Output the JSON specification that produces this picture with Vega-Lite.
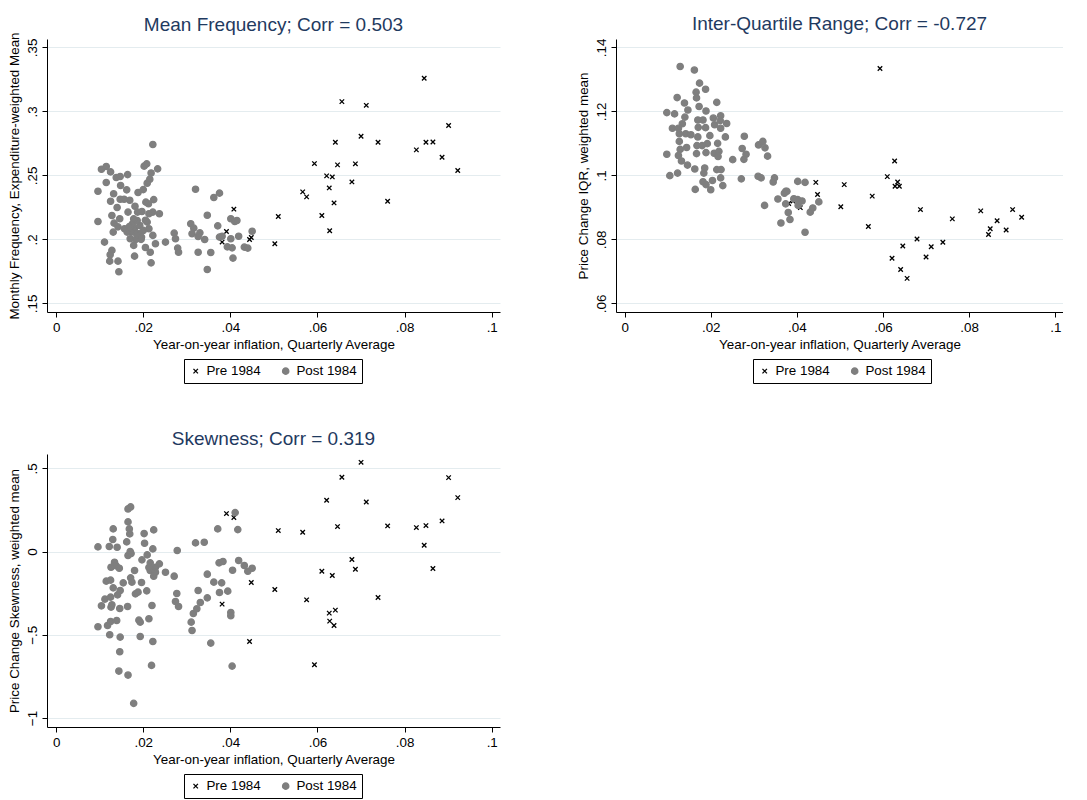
{
"$schema": "https://vega.github.io/schema/vega-lite/v6.json",
"background": "white",
"padding": {"left": 6, "top": 15, "right": 0, "bottom": 0},
"config": {
  "font": "Liberation Sans",
  "view": {"stroke": null},
  "title": {"fontSize": 19, "fontWeight": "normal", "color": "#1f3a5f"},
  "axis": {"domainColor": "black", "tickColor": "black", "tickSize": 5, "labelFontSize": 13.4, "titleFontSize": 13.4, "titleFontWeight": "normal", "labelColor": "black", "titleColor": "black", "grid": false, "labelPadding": 3, "titlePadding": 4,
    "labelExpr": "datum.value == 0 ? '0' : replace(format(datum.value, '~g'), '0.', '.')"},
  "axisY": {"grid": true, "gridColor": "#e4ecef", "labelAngle": 270, "labelAlign": "center", "labelBaseline": "bottom"},
  "legend": {"orient": "none", "legendX": 137, "legendY": 320, "direction": "horizontal", "strokeColor": "black", "padding": 5, "labelFontSize": 13.4, "columnPadding": 18, "labelOffset": 4, "symbolStrokeWidth": 1.3, "symbolSize": 36, "title": null}
},
"datasets": {
"freq": [
{"p":"Pre 1984","x":0.0381,"y":0.1979},{"p":"Pre 1984","x":0.0391,"y":0.2062},{"p":"Pre 1984","x":0.0408,"y":0.2236},{"p":"Pre 1984","x":0.0444,"y":0.1999},{"p":"Pre 1984","x":0.0448,"y":0.2015},{"p":"Pre 1984","x":0.0502,"y":0.1966},{"p":"Pre 1984","x":0.0510,"y":0.2179},{"p":"Pre 1984","x":0.0566,"y":0.2371},{"p":"Pre 1984","x":0.0575,"y":0.2332},{"p":"Pre 1984","x":0.0593,"y":0.2592},{"p":"Pre 1984","x":0.0610,"y":0.2187},{"p":"Pre 1984","x":0.0621,"y":0.2496},{"p":"Pre 1984","x":0.0627,"y":0.2402},{"p":"Pre 1984","x":0.0628,"y":0.2067},{"p":"Pre 1984","x":0.0634,"y":0.2488},{"p":"Pre 1984","x":0.0638,"y":0.2285},{"p":"Pre 1984","x":0.0641,"y":0.2759},{"p":"Pre 1984","x":0.0646,"y":0.2582},{"p":"Pre 1984","x":0.0656,"y":0.3076},{"p":"Pre 1984","x":0.0679,"y":0.2449},{"p":"Pre 1984","x":0.0687,"y":0.2590},{"p":"Pre 1984","x":0.0700,"y":0.2806},{"p":"Pre 1984","x":0.0712,"y":0.3047},{"p":"Pre 1984","x":0.0739,"y":0.2759},{"p":"Pre 1984","x":0.0761,"y":0.2298},{"p":"Pre 1984","x":0.0827,"y":0.2699},{"p":"Pre 1984","x":0.0845,"y":0.3258},{"p":"Pre 1984","x":0.0849,"y":0.2759},{"p":"Pre 1984","x":0.0865,"y":0.2761},{"p":"Pre 1984","x":0.0886,"y":0.2642},{"p":"Pre 1984","x":0.0901,"y":0.2889},{"p":"Pre 1984","x":0.0922,"y":0.2538},
{"p":"Post 1984","x":0.0096,"y":0.2376},{"p":"Post 1984","x":0.0096,"y":0.2140},{"p":"Post 1984","x":0.0104,"y":0.2548},{"p":"Post 1984","x":0.0115,"y":0.2569},{"p":"Post 1984","x":0.0125,"y":0.2527},{"p":"Post 1984","x":0.0115,"y":0.2444},{"p":"Post 1984","x":0.0132,"y":0.2356},{"p":"Post 1984","x":0.0125,"y":0.2298},{"p":"Post 1984","x":0.0128,"y":0.2187},{"p":"Post 1984","x":0.0133,"y":0.2127},{"p":"Post 1984","x":0.0111,"y":0.1979},{"p":"Post 1984","x":0.0131,"y":0.2057},{"p":"Post 1984","x":0.0140,"y":0.2249},{"p":"Post 1984","x":0.0138,"y":0.2483},{"p":"Post 1984","x":0.0147,"y":0.2491},{"p":"Post 1984","x":0.0148,"y":0.2421},{"p":"Post 1984","x":0.0147,"y":0.2314},{"p":"Post 1984","x":0.0156,"y":0.2314},{"p":"Post 1984","x":0.0146,"y":0.2161},{"p":"Post 1984","x":0.0142,"y":0.2098},{"p":"Post 1984","x":0.0162,"y":0.2387},{"p":"Post 1984","x":0.0164,"y":0.2506},{"p":"Post 1984","x":0.0169,"y":0.2306},{"p":"Post 1984","x":0.0165,"y":0.2213},{"p":"Post 1984","x":0.0128,"y":0.1914},{"p":"Post 1984","x":0.0124,"y":0.1880},{"p":"Post 1984","x":0.0123,"y":0.1830},{"p":"Post 1984","x":0.0142,"y":0.1830},{"p":"Post 1984","x":0.0144,"y":0.1747},{"p":"Post 1984","x":0.0181,"y":0.2259},{"p":"Post 1984","x":0.0188,"y":0.2366},{"p":"Post 1984","x":0.0187,"y":0.2213},{"p":"Post 1984","x":0.0180,"y":0.2083},{"p":"Post 1984","x":0.0178,"y":0.1953},{"p":"Post 1984","x":0.0180,"y":0.1869},{"p":"Post 1984","x":0.0173,"y":0.2057},{"p":"Post 1984","x":0.0200,"y":0.2389},{"p":"Post 1984","x":0.0202,"y":0.2572},{"p":"Post 1984","x":0.0208,"y":0.2590},{"p":"Post 1984","x":0.0209,"y":0.2439},{"p":"Post 1984","x":0.0215,"y":0.2470},{"p":"Post 1984","x":0.0218,"y":0.2519},{"p":"Post 1984","x":0.0222,"y":0.2741},{"p":"Post 1984","x":0.0233,"y":0.2551},{"p":"Post 1984","x":0.0224,"y":0.2311},{"p":"Post 1984","x":0.0212,"y":0.2278},{"p":"Post 1984","x":0.0206,"y":0.2291},{"p":"Post 1984","x":0.0197,"y":0.2218},{"p":"Post 1984","x":0.0222,"y":0.2213},{"p":"Post 1984","x":0.0237,"y":0.2200},{"p":"Post 1984","x":0.0228,"y":0.1966},{"p":"Post 1984","x":0.0222,"y":0.2031},{"p":"Post 1984","x":0.0213,"y":0.2083},{"p":"Post 1984","x":0.0209,"y":0.2135},{"p":"Post 1984","x":0.0205,"y":0.1937},{"p":"Post 1984","x":0.0216,"y":0.1900},{"p":"Post 1984","x":0.0218,"y":0.1817},{"p":"Post 1984","x":0.0192,"y":0.2109},{"p":"Post 1984","x":0.0190,"y":0.2044},{"p":"Post 1984","x":0.0196,"y":0.2018},{"p":"Post 1984","x":0.0170,"y":0.2005},{"p":"Post 1984","x":0.0163,"y":0.2057},{"p":"Post 1984","x":0.0157,"y":0.2083},{"p":"Post 1984","x":0.0186,"y":0.2148},{"p":"Post 1984","x":0.0175,"y":0.2120},{"p":"Post 1984","x":0.0185,"y":0.2040},{"p":"Post 1984","x":0.0195,"y":0.2000},{"p":"Post 1984","x":0.0200,"y":0.2070},{"p":"Post 1984","x":0.0205,"y":0.2150},{"p":"Post 1984","x":0.0178,"y":0.2160},{"p":"Post 1984","x":0.0168,"y":0.2100},{"p":"Post 1984","x":0.0183,"y":0.2000},{"p":"Post 1984","x":0.0213,"y":0.2200},{"p":"Post 1984","x":0.0251,"y":0.1979},{"p":"Post 1984","x":0.0271,"y":0.2049},{"p":"Post 1984","x":0.0274,"y":0.2005},{"p":"Post 1984","x":0.0279,"y":0.1932},{"p":"Post 1984","x":0.0281,"y":0.1900},{"p":"Post 1984","x":0.0320,"y":0.2392},{"p":"Post 1984","x":0.0309,"y":0.2122},{"p":"Post 1984","x":0.0316,"y":0.2088},{"p":"Post 1984","x":0.0312,"y":0.2044},{"p":"Post 1984","x":0.0330,"y":0.2051},{"p":"Post 1984","x":0.0326,"y":0.2023},{"p":"Post 1984","x":0.0341,"y":0.1999},{"p":"Post 1984","x":0.0326,"y":0.1900},{"p":"Post 1984","x":0.0347,"y":0.2189},{"p":"Post 1984","x":0.0355,"y":0.1898},{"p":"Post 1984","x":0.0347,"y":0.1765},{"p":"Post 1984","x":0.0362,"y":0.2327},{"p":"Post 1984","x":0.0375,"y":0.2361},{"p":"Post 1984","x":0.0371,"y":0.2106},{"p":"Post 1984","x":0.0375,"y":0.2018},{"p":"Post 1984","x":0.0393,"y":0.1942},{"p":"Post 1984","x":0.0404,"y":0.1934},{"p":"Post 1984","x":0.0401,"y":0.2005},{"p":"Post 1984","x":0.0401,"y":0.2161},{"p":"Post 1984","x":0.0410,"y":0.2140},{"p":"Post 1984","x":0.0415,"y":0.2148},{"p":"Post 1984","x":0.0419,"y":0.2025},{"p":"Post 1984","x":0.0406,"y":0.1854},{"p":"Post 1984","x":0.0432,"y":0.1940},{"p":"Post 1984","x":0.0440,"y":0.1932},{"p":"Post 1984","x":0.0450,"y":0.2064},{"p":"Post 1984","x":0.0381,"y":0.2025}
],
"iqr": [
{"p":"Pre 1984","x":0.0381,"y":0.0912},{"p":"Pre 1984","x":0.0391,"y":0.0920},{"p":"Pre 1984","x":0.0408,"y":0.0899},{"p":"Pre 1984","x":0.0444,"y":0.0978},{"p":"Pre 1984","x":0.0448,"y":0.0940},{"p":"Pre 1984","x":0.0502,"y":0.0902},{"p":"Pre 1984","x":0.0510,"y":0.0971},{"p":"Pre 1984","x":0.0566,"y":0.0840},{"p":"Pre 1984","x":0.0575,"y":0.0935},{"p":"Pre 1984","x":0.0593,"y":0.1334},{"p":"Pre 1984","x":0.0610,"y":0.0996},{"p":"Pre 1984","x":0.0621,"y":0.0741},{"p":"Pre 1984","x":0.0627,"y":0.1045},{"p":"Pre 1984","x":0.0628,"y":0.0966},{"p":"Pre 1984","x":0.0634,"y":0.0979},{"p":"Pre 1984","x":0.0638,"y":0.0966},{"p":"Pre 1984","x":0.0641,"y":0.0706},{"p":"Pre 1984","x":0.0646,"y":0.0779},{"p":"Pre 1984","x":0.0656,"y":0.0678},{"p":"Pre 1984","x":0.0679,"y":0.0801},{"p":"Pre 1984","x":0.0687,"y":0.0893},{"p":"Pre 1984","x":0.0700,"y":0.0745},{"p":"Pre 1984","x":0.0712,"y":0.0777},{"p":"Pre 1984","x":0.0739,"y":0.0791},{"p":"Pre 1984","x":0.0761,"y":0.0864},{"p":"Pre 1984","x":0.0827,"y":0.0889},{"p":"Pre 1984","x":0.0845,"y":0.0815},{"p":"Pre 1984","x":0.0849,"y":0.0833},{"p":"Pre 1984","x":0.0865,"y":0.0858},{"p":"Pre 1984","x":0.0886,"y":0.0829},{"p":"Pre 1984","x":0.0901,"y":0.0893},{"p":"Pre 1984","x":0.0922,"y":0.0869},
{"p":"Post 1984","x":0.0129,"y":0.1340},{"p":"Post 1984","x":0.0162,"y":0.1329},{"p":"Post 1984","x":0.0174,"y":0.1288},{"p":"Post 1984","x":0.0188,"y":0.1269},{"p":"Post 1984","x":0.0166,"y":0.1260},{"p":"Post 1984","x":0.0167,"y":0.1242},{"p":"Post 1984","x":0.0122,"y":0.1243},{"p":"Post 1984","x":0.0139,"y":0.1226},{"p":"Post 1984","x":0.0214,"y":0.1228},{"p":"Post 1984","x":0.0173,"y":0.1215},{"p":"Post 1984","x":0.0147,"y":0.1204},{"p":"Post 1984","x":0.0189,"y":0.1201},{"p":"Post 1984","x":0.0098,"y":0.1196},{"p":"Post 1984","x":0.0116,"y":0.1192},{"p":"Post 1984","x":0.0223,"y":0.1186},{"p":"Post 1984","x":0.0206,"y":0.1179},{"p":"Post 1984","x":0.0140,"y":0.1182},{"p":"Post 1984","x":0.0170,"y":0.1173},{"p":"Post 1984","x":0.0182,"y":0.1173},{"p":"Post 1984","x":0.0222,"y":0.1171},{"p":"Post 1984","x":0.0237,"y":0.1162},{"p":"Post 1984","x":0.0134,"y":0.1161},{"p":"Post 1984","x":0.0209,"y":0.1158},{"p":"Post 1984","x":0.0111,"y":0.1147},{"p":"Post 1984","x":0.0125,"y":0.1147},{"p":"Post 1984","x":0.0188,"y":0.1149},{"p":"Post 1984","x":0.0223,"y":0.1147},{"p":"Post 1984","x":0.0171,"y":0.1150},{"p":"Post 1984","x":0.0142,"y":0.1130},{"p":"Post 1984","x":0.0154,"y":0.1127},{"p":"Post 1984","x":0.0127,"y":0.1130},{"p":"Post 1984","x":0.0170,"y":0.1120},{"p":"Post 1984","x":0.0198,"y":0.1124},{"p":"Post 1984","x":0.0234,"y":0.1120},{"p":"Post 1984","x":0.0278,"y":0.1122},{"p":"Post 1984","x":0.0127,"y":0.1106},{"p":"Post 1984","x":0.0192,"y":0.1099},{"p":"Post 1984","x":0.0216,"y":0.1100},{"p":"Post 1984","x":0.0168,"y":0.1093},{"p":"Post 1984","x":0.0180,"y":0.1093},{"p":"Post 1984","x":0.0311,"y":0.1095},{"p":"Post 1984","x":0.0321,"y":0.1106},{"p":"Post 1984","x":0.0326,"y":0.1086},{"p":"Post 1984","x":0.0273,"y":0.1084},{"p":"Post 1984","x":0.0129,"y":0.1081},{"p":"Post 1984","x":0.0144,"y":0.1087},{"p":"Post 1984","x":0.0189,"y":0.1071},{"p":"Post 1984","x":0.0208,"y":0.1069},{"p":"Post 1984","x":0.0219,"y":0.1075},{"p":"Post 1984","x":0.0167,"y":0.1068},{"p":"Post 1984","x":0.0098,"y":0.1066},{"p":"Post 1984","x":0.0125,"y":0.1062},{"p":"Post 1984","x":0.0217,"y":0.1059},{"p":"Post 1984","x":0.0282,"y":0.1066},{"p":"Post 1984","x":0.0332,"y":0.1060},{"p":"Post 1984","x":0.0251,"y":0.1049},{"p":"Post 1984","x":0.0277,"y":0.1050},{"p":"Post 1984","x":0.0132,"y":0.1045},{"p":"Post 1984","x":0.0146,"y":0.1032},{"p":"Post 1984","x":0.0163,"y":0.1020},{"p":"Post 1984","x":0.0186,"y":0.1023},{"p":"Post 1984","x":0.0214,"y":0.1018},{"p":"Post 1984","x":0.0224,"y":0.1018},{"p":"Post 1984","x":0.0105,"y":0.0999},{"p":"Post 1984","x":0.0123,"y":0.1007},{"p":"Post 1984","x":0.0184,"y":0.1007},{"p":"Post 1984","x":0.0223,"y":0.0992},{"p":"Post 1984","x":0.0182,"y":0.0980},{"p":"Post 1984","x":0.0204,"y":0.0984},{"p":"Post 1984","x":0.0189,"y":0.0971},{"p":"Post 1984","x":0.0200,"y":0.0955},{"p":"Post 1984","x":0.0164,"y":0.0956},{"p":"Post 1984","x":0.0228,"y":0.0968},{"p":"Post 1984","x":0.0271,"y":0.0989},{"p":"Post 1984","x":0.0310,"y":0.0997},{"p":"Post 1984","x":0.0317,"y":0.0992},{"p":"Post 1984","x":0.0348,"y":0.0992},{"p":"Post 1984","x":0.0345,"y":0.0979},{"p":"Post 1984","x":0.0402,"y":0.0981},{"p":"Post 1984","x":0.0419,"y":0.0978},{"p":"Post 1984","x":0.0356,"y":0.0926},{"p":"Post 1984","x":0.0374,"y":0.0950},{"p":"Post 1984","x":0.0377,"y":0.0950},{"p":"Post 1984","x":0.0371,"y":0.0944},{"p":"Post 1984","x":0.0393,"y":0.0927},{"p":"Post 1984","x":0.0374,"y":0.0911},{"p":"Post 1984","x":0.0402,"y":0.0924},{"p":"Post 1984","x":0.0412,"y":0.0920},{"p":"Post 1984","x":0.0403,"y":0.0906},{"p":"Post 1984","x":0.0325,"y":0.0906},{"p":"Post 1984","x":0.0380,"y":0.0884},{"p":"Post 1984","x":0.0384,"y":0.0862},{"p":"Post 1984","x":0.0363,"y":0.0851},{"p":"Post 1984","x":0.0431,"y":0.0885},{"p":"Post 1984","x":0.0437,"y":0.0898},{"p":"Post 1984","x":0.0451,"y":0.0917},{"p":"Post 1984","x":0.0419,"y":0.0822}
],
"skew": [
{"p":"Pre 1984","x":0.0381,"y":-0.316},{"p":"Pre 1984","x":0.0391,"y":0.228},{"p":"Pre 1984","x":0.0408,"y":0.204},{"p":"Pre 1984","x":0.0444,"y":-0.540},{"p":"Pre 1984","x":0.0448,"y":-0.186},{"p":"Pre 1984","x":0.0502,"y":-0.228},{"p":"Pre 1984","x":0.0510,"y":0.126},{"p":"Pre 1984","x":0.0566,"y":0.116},{"p":"Pre 1984","x":0.0575,"y":-0.290},{"p":"Pre 1984","x":0.0593,"y":-0.680},{"p":"Pre 1984","x":0.0610,"y":-0.118},{"p":"Pre 1984","x":0.0621,"y":0.308},{"p":"Pre 1984","x":0.0627,"y":-0.370},{"p":"Pre 1984","x":0.0628,"y":-0.418},{"p":"Pre 1984","x":0.0634,"y":-0.144},{"p":"Pre 1984","x":0.0638,"y":-0.444},{"p":"Pre 1984","x":0.0641,"y":-0.352},{"p":"Pre 1984","x":0.0646,"y":0.150},{"p":"Pre 1984","x":0.0656,"y":0.446},{"p":"Pre 1984","x":0.0679,"y":-0.048},{"p":"Pre 1984","x":0.0687,"y":-0.106},{"p":"Pre 1984","x":0.0700,"y":0.536},{"p":"Pre 1984","x":0.0712,"y":0.298},{"p":"Pre 1984","x":0.0739,"y":-0.276},{"p":"Pre 1984","x":0.0761,"y":0.154},{"p":"Pre 1984","x":0.0827,"y":0.144},{"p":"Pre 1984","x":0.0845,"y":0.038},{"p":"Pre 1984","x":0.0849,"y":0.156},{"p":"Pre 1984","x":0.0865,"y":-0.102},{"p":"Pre 1984","x":0.0886,"y":0.184},{"p":"Pre 1984","x":0.0901,"y":0.444},{"p":"Pre 1984","x":0.0922,"y":0.324},
{"p":"Post 1984","x":0.0096,"y":0.028},{"p":"Post 1984","x":0.0096,"y":-0.452},{"p":"Post 1984","x":0.0104,"y":-0.326},{"p":"Post 1984","x":0.0112,"y":-0.286},{"p":"Post 1984","x":0.0115,"y":-0.178},{"p":"Post 1984","x":0.0118,"y":-0.444},{"p":"Post 1984","x":0.0123,"y":-0.500},{"p":"Post 1984","x":0.0126,"y":-0.094},{"p":"Post 1984","x":0.0125,"y":-0.172},{"p":"Post 1984","x":0.0125,"y":-0.274},{"p":"Post 1984","x":0.0126,"y":-0.334},{"p":"Post 1984","x":0.0128,"y":-0.320},{"p":"Post 1984","x":0.0131,"y":-0.218},{"p":"Post 1984","x":0.0131,"y":0.136},{"p":"Post 1984","x":0.0130,"y":0.072},{"p":"Post 1984","x":0.0125,"y":-0.420},{"p":"Post 1984","x":0.0122,"y":0.030},{"p":"Post 1984","x":0.0134,"y":-0.064},{"p":"Post 1984","x":0.0138,"y":-0.086},{"p":"Post 1984","x":0.0140,"y":0.026},{"p":"Post 1984","x":0.0139,"y":-0.414},{"p":"Post 1984","x":0.0141,"y":-0.260},{"p":"Post 1984","x":0.0145,"y":-0.100},{"p":"Post 1984","x":0.0147,"y":-0.234},{"p":"Post 1984","x":0.0146,"y":-0.342},{"p":"Post 1984","x":0.0147,"y":-0.514},{"p":"Post 1984","x":0.0146,"y":-0.602},{"p":"Post 1984","x":0.0144,"y":-0.718},{"p":"Post 1984","x":0.0154,"y":-0.188},{"p":"Post 1984","x":0.0162,"y":0.058},{"p":"Post 1984","x":0.0165,"y":0.178},{"p":"Post 1984","x":0.0165,"y":0.256},{"p":"Post 1984","x":0.0171,"y":0.268},{"p":"Post 1984","x":0.0168,"y":0.136},{"p":"Post 1984","x":0.0169,"y":0.106},{"p":"Post 1984","x":0.0165,"y":-0.024},{"p":"Post 1984","x":0.0170,"y":0.000},{"p":"Post 1984","x":0.0172,"y":-0.012},{"p":"Post 1984","x":0.0171,"y":-0.158},{"p":"Post 1984","x":0.0174,"y":-0.184},{"p":"Post 1984","x":0.0164,"y":-0.330},{"p":"Post 1984","x":0.0165,"y":-0.742},{"p":"Post 1984","x":0.0178,"y":-0.912},{"p":"Post 1984","x":0.0180,"y":-0.114},{"p":"Post 1984","x":0.0182,"y":-0.254},{"p":"Post 1984","x":0.0188,"y":-0.244},{"p":"Post 1984","x":0.0190,"y":-0.412},{"p":"Post 1984","x":0.0193,"y":-0.424},{"p":"Post 1984","x":0.0193,"y":-0.510},{"p":"Post 1984","x":0.0196,"y":-0.186},{"p":"Post 1984","x":0.0197,"y":-0.050},{"p":"Post 1984","x":0.0203,"y":0.050},{"p":"Post 1984","x":0.0202,"y":0.108},{"p":"Post 1984","x":0.0209,"y":-0.020},{"p":"Post 1984","x":0.0208,"y":-0.236},{"p":"Post 1984","x":0.0213,"y":-0.404},{"p":"Post 1984","x":0.0216,"y":-0.068},{"p":"Post 1984","x":0.0216,"y":-0.114},{"p":"Post 1984","x":0.0219,"y":-0.684},{"p":"Post 1984","x":0.0220,"y":-0.324},{"p":"Post 1984","x":0.0222,"y":0.016},{"p":"Post 1984","x":0.0224,"y":0.130},{"p":"Post 1984","x":0.0224,"y":-0.148},{"p":"Post 1984","x":0.0222,"y":-0.540},{"p":"Post 1984","x":0.0228,"y":-0.094},{"p":"Post 1984","x":0.0237,"y":-0.074},{"p":"Post 1984","x":0.0228,"y":-0.124},{"p":"Post 1984","x":0.0213,"y":-0.096},{"p":"Post 1984","x":0.0251,"y":-0.124},{"p":"Post 1984","x":0.0271,"y":-0.148},{"p":"Post 1984","x":0.0278,"y":0.006},{"p":"Post 1984","x":0.0277,"y":-0.252},{"p":"Post 1984","x":0.0274,"y":-0.300},{"p":"Post 1984","x":0.0281,"y":-0.330},{"p":"Post 1984","x":0.0310,"y":-0.424},{"p":"Post 1984","x":0.0312,"y":-0.474},{"p":"Post 1984","x":0.0315,"y":-0.372},{"p":"Post 1984","x":0.0320,"y":0.052},{"p":"Post 1984","x":0.0323,"y":-0.344},{"p":"Post 1984","x":0.0326,"y":-0.234},{"p":"Post 1984","x":0.0331,"y":-0.306},{"p":"Post 1984","x":0.0340,"y":0.056},{"p":"Post 1984","x":0.0347,"y":-0.136},{"p":"Post 1984","x":0.0347,"y":-0.278},{"p":"Post 1984","x":0.0355,"y":-0.550},{"p":"Post 1984","x":0.0362,"y":-0.184},{"p":"Post 1984","x":0.0371,"y":0.136},{"p":"Post 1984","x":0.0374,"y":-0.068},{"p":"Post 1984","x":0.0375,"y":-0.246},{"p":"Post 1984","x":0.0380,"y":-0.188},{"p":"Post 1984","x":0.0383,"y":-0.060},{"p":"Post 1984","x":0.0394,"y":-0.238},{"p":"Post 1984","x":0.0401,"y":-0.366},{"p":"Post 1984","x":0.0401,"y":-0.386},{"p":"Post 1984","x":0.0404,"y":-0.688},{"p":"Post 1984","x":0.0405,"y":-0.112},{"p":"Post 1984","x":0.0411,"y":0.234},{"p":"Post 1984","x":0.0417,"y":0.132},{"p":"Post 1984","x":0.0419,"y":-0.054},{"p":"Post 1984","x":0.0432,"y":-0.084},{"p":"Post 1984","x":0.0440,"y":-0.118},{"p":"Post 1984","x":0.0450,"y":-0.100}
]
},
"vconcat": [
 {"hconcat": [
  {"width": 453, "height": 273, "title": {"text": "Mean Frequency; Corr = 0.503", "offset": -3}, "data": {"name": "freq"},
   "mark": {"type": "point", "filled": true, "strokeWidth": 1.3, "opacity": 1},
   "encoding": {
    "x": {"field": "x", "type": "quantitative", "scale": {"domain": [-0.0021, 0.1019], "nice": false, "zero": false}, "axis": {"values": [0, 0.02, 0.04, 0.06, 0.08, 0.1], "title": "Year-on-year inflation, Quarterly Average"}},
    "y": {"field": "y", "type": "quantitative", "scale": {"domain": [0.1433, 0.3565], "nice": false, "zero": false}, "axis": {"values": [0.15, 0.2, 0.25, 0.3, 0.35], "title": "Monthly Frequency, Expenditure-weighted Mean"}},
    "shape": {"field": "p", "type": "nominal", "scale": {"domain": ["Pre 1984", "Post 1984"], "range": ["M-1,-1L1,1M-1,1L1,-1", "circle"]}},
    "fill": {"field": "p", "type": "nominal", "scale": {"domain": ["Pre 1984", "Post 1984"], "range": ["black", "#7f7f7f"]}},
    "stroke": {"field": "p", "type": "nominal", "scale": {"domain": ["Pre 1984", "Post 1984"], "range": ["black", "#7f7f7f"]}},
    "size": {"field": "p", "type": "nominal", "scale": {"domain": ["Pre 1984", "Post 1984"], "range": [20, 40]}}
   }},
  {"width": 447, "height": 273, "title": {"text": "Inter-Quartile Range; Corr = -0.727", "offset": 4}, "data": {"name": "iqr"},
   "mark": {"type": "point", "filled": true, "strokeWidth": 1.3, "opacity": 1},
   "encoding": {
    "x": {"field": "x", "type": "quantitative", "scale": {"domain": [-0.002, 0.1018], "nice": false, "zero": false}, "axis": {"values": [0, 0.02, 0.04, 0.06, 0.08, 0.1], "title": "Year-on-year inflation, Quarterly Average"}},
    "y": {"field": "y", "type": "quantitative", "scale": {"domain": [0.0573, 0.1426], "nice": false, "zero": false}, "axis": {"values": [0.06, 0.08, 0.1, 0.12, 0.14], "title": "Price Change IQR, weighted mean"}},
    "shape": {"field": "p", "type": "nominal", "scale": {"domain": ["Pre 1984", "Post 1984"], "range": ["M-1,-1L1,1M-1,1L1,-1", "circle"]}},
    "fill": {"field": "p", "type": "nominal", "scale": {"domain": ["Pre 1984", "Post 1984"], "range": ["black", "#7f7f7f"]}},
    "stroke": {"field": "p", "type": "nominal", "scale": {"domain": ["Pre 1984", "Post 1984"], "range": ["black", "#7f7f7f"]}},
    "size": {"field": "p", "type": "nominal", "scale": {"domain": ["Pre 1984", "Post 1984"], "range": [20, 40]}}
   }}
  ],
  "spacing": 76,
  "resolve": {"scale": {"x": "independent", "y": "independent", "shape": "independent", "fill": "independent", "stroke": "independent", "size": "independent"}, "legend": {"shape": "independent", "fill": "independent", "stroke": "independent", "size": "independent"}}
 },
 {"width": 453, "height": 273, "title": {"text": "Skewness; Corr = 0.319", "offset": 5}, "data": {"name": "skew"},
   "mark": {"type": "point", "filled": true, "strokeWidth": 1.3, "opacity": 1},
   "encoding": {
    "x": {"field": "x", "type": "quantitative", "scale": {"domain": [-0.0021, 0.1019], "nice": false, "zero": false}, "axis": {"values": [0, 0.02, 0.04, 0.06, 0.08, 0.1], "title": "Year-on-year inflation, Quarterly Average"}},
    "y": {"field": "y", "type": "quantitative", "scale": {"domain": [-1.054, 0.586], "nice": false, "zero": false}, "axis": {"values": [-1, -0.5, 0, 0.5], "title": "Price Change Skewness, weighted mean"}},
    "shape": {"field": "p", "type": "nominal", "scale": {"domain": ["Pre 1984", "Post 1984"], "range": ["M-1,-1L1,1M-1,1L1,-1", "circle"]}},
    "fill": {"field": "p", "type": "nominal", "scale": {"domain": ["Pre 1984", "Post 1984"], "range": ["black", "#7f7f7f"]}},
    "stroke": {"field": "p", "type": "nominal", "scale": {"domain": ["Pre 1984", "Post 1984"], "range": ["black", "#7f7f7f"]}},
    "size": {"field": "p", "type": "nominal", "scale": {"domain": ["Pre 1984", "Post 1984"], "range": [20, 40]}}
   }}
],
"spacing": 46,
"resolve": {"scale": {"x": "independent", "y": "independent", "shape": "independent", "fill": "independent", "stroke": "independent", "size": "independent"}, "legend": {"shape": "independent", "fill": "independent", "stroke": "independent", "size": "independent"}}
}
